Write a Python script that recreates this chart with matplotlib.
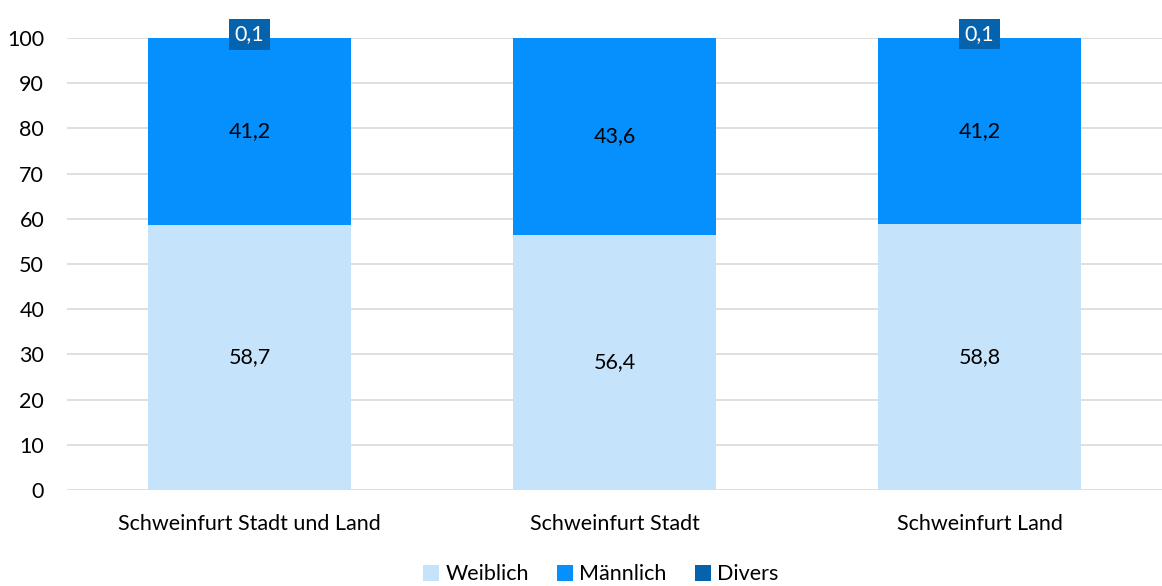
import numpy as np
import matplotlib.pyplot as plt

plt.rcParams['font.family'] = ['Lato', 'DejaVu Sans']

categories = ['Schweinfurt Stadt und Land', 'Schweinfurt Stadt', 'Schweinfurt Land']
weiblich = [58.7, 56.4, 58.8]
maennlich = [41.2, 43.6, 41.2]
divers = [0.1, 0.0, 0.1]

c_w = '#c5e4fb'
c_m = '#0590fd'
c_d = '#0563ae'

fig = plt.figure(figsize=(11.62, 5.86), dpi=100)
ax = fig.add_axes([0.0577, 0.1638, 0.9423, 0.7714])

x = np.arange(len(categories))
w = 0.555
fs = 15.5
b1 = ax.bar(x, weiblich, w, color=c_w, label='Weiblich', zorder=3)
b2 = ax.bar(x, maennlich, w, bottom=weiblich, color=c_m, label='Männlich', zorder=3)
bot2 = np.array(weiblich) + np.array(maennlich)
b3 = ax.bar(x, divers, w, bottom=bot2, color=c_d, label='Divers', zorder=3)

fmt = lambda v: ('%.1f' % v).replace('.', ',')
for i in range(len(x)):
    ax.text(x[i], weiblich[i] / 2, fmt(weiblich[i]), ha='center', va='center',
            fontsize=fs, color='black', zorder=4)
    ax.text(x[i], weiblich[i] + maennlich[i] / 2, fmt(maennlich[i]), ha='center',
            va='center', fontsize=fs, color='black', zorder=4)
    if divers[i] > 0:
        ax.text(x[i], bot2[i] + divers[i] + 0.8, fmt(divers[i]), ha='center',
                va='center', fontsize=fs, color='white', zorder=5,
                bbox=dict(boxstyle='square,pad=0.25', fc=c_d, ec='none'))

ax.set_xlim(-0.5, 2.5)
ax.set_ylim(0, 100)
ax.set_yticks(range(0, 101, 10))
ax.set_xticks(x)
ax.set_xticklabels(categories, fontsize=fs)
ax.tick_params(axis='y', labelsize=fs, length=0, pad=16.5)
ax.tick_params(axis='x', length=0, pad=17)
ax.grid(axis='y', color='#d9d9d9', linewidth=1.2, zorder=0)
ax.set_axisbelow(True)
for s in ax.spines.values():
    s.set_visible(False)

fig.legend(handles=[b1, b2, b3], loc='lower center', ncol=3, frameon=False,
           fontsize=fs, bbox_to_anchor=(0.517, -0.03), handlelength=0.75,
           handleheight=0.75, handletextpad=0.3, columnspacing=1.3)

fig.savefig('out.png', dpi=100)
